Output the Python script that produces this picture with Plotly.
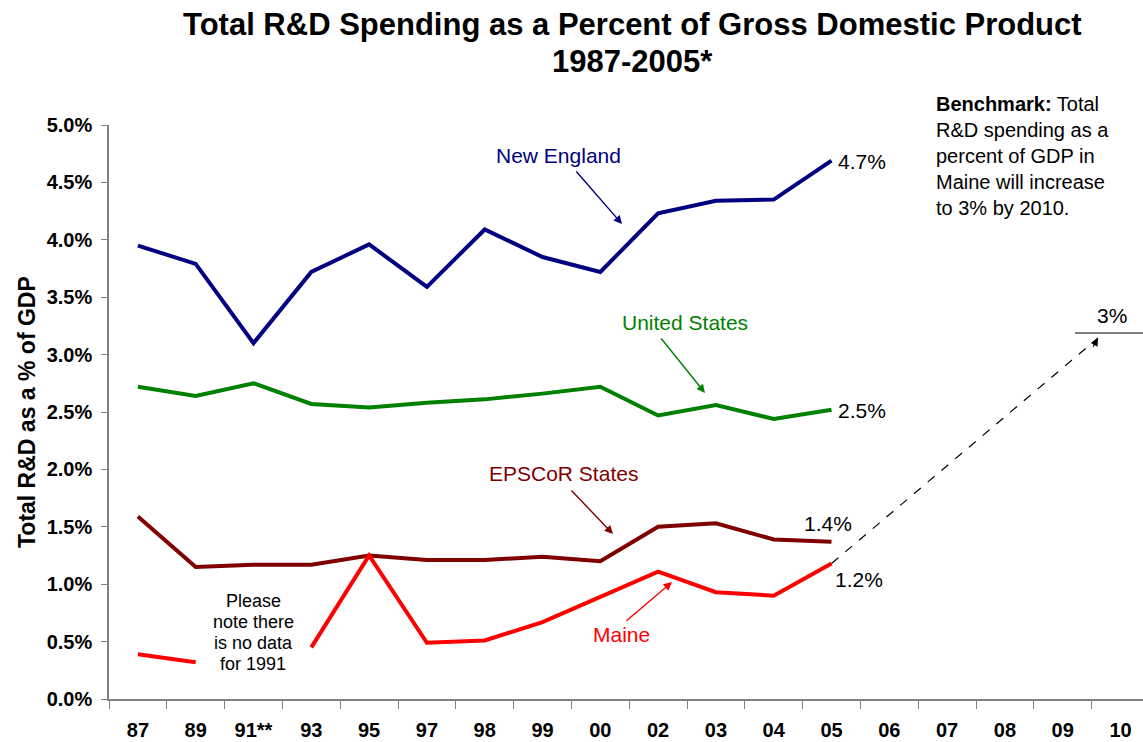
import plotly.graph_objects as go

years = ["87", "89", "91**", "93", "95", "97", "98", "99", "00", "02", "03", "04", "05",
         "06", "07", "08", "09", "10"]
data_years = years[:13]
new_england = [3.95, 3.79, 3.10, 3.72, 3.96, 3.59, 4.09, 3.85, 3.72, 4.23, 4.34, 4.35, 4.69]
united_states = [2.72, 2.64, 2.75, 2.57, 2.54, 2.58, 2.61, 2.66, 2.72, 2.47, 2.56, 2.44, 2.52]
epscor = [1.59, 1.15, 1.17, 1.17, 1.25, 1.21, 1.21, 1.24, 1.20, 1.50, 1.53, 1.39, 1.37]
maine = [0.39, 0.32, None, 0.45, 1.25, 0.49, 0.51, 0.67, 0.89, 1.11, 0.93, 0.90, 1.18]
target_2010 = 3.0

title_lines = ["Total R&D Spending as a Percent of Gross Domestic Product", "1987-2005*"]
benchmark_lines = ["<b>Benchmark:</b> Total", "R&D spending as a", "percent of GDP in",
                   "Maine will increase", "to 3% by 2010."]
note_lines = ["Please", "note there", "is no data", "for 1991"]

FONT = "Liberation Sans, Arial, sans-serif"

# plot area in page pixels
PX_L, PX_R, PX_T, PX_B = 109, 1143, 125, 699
CAT_W = 57.8                      # pixel width of one category
X_END = -0.5 + (PX_R - PX_L) / CAT_W


def px(xp):
    return (xp - PX_L) / (PX_R - PX_L)


def py(yp):
    return (PX_B - yp) / (PX_B - PX_T)


def dx(xp):
    return (xp - PX_L) / CAT_W - 0.5


def dy(yp):
    return (PX_B - yp) / (PX_B - PX_T) * 5.0


fig = go.Figure()
series = [
    ("New England", new_england, "#000080"),
    ("United States", united_states, "#008000"),
    ("EPSCoR States", epscor, "#800000"),
    ("Maine", maine, "#FF0000"),
]
for name, vals, col in series:
    fig.add_trace(go.Scatter(x=data_years, y=vals, mode="lines", name=name,
                             line=dict(color=col, width=4), connectgaps=False,
                             showlegend=False))
fig.add_trace(go.Scatter(x=years, y=[None] * len(years), mode="lines", showlegend=False,
                         hoverinfo="skip"))

ann = []
labels = [
    ("New England", (558, 155), "#000080", (575, 170), (622, 224)),
    ("United States", (685, 322), "#008000", (660, 337), (705, 393)),
    ("EPSCoR States", (563, 473), "#800000", (570, 489), (613, 534)),
    ("Maine", (621, 634), "#FF0000", (625, 622), (672, 582)),
]
for txt, tpos, col, tail, head in labels:
    ann.append(dict(x=dx(tpos[0]), y=dy(tpos[1]), xref="x", yref="y", text=txt,
                    showarrow=False, xanchor="center", yanchor="middle",
                    font=dict(family=FONT, size=21, color=col)))
    ann.append(dict(x=dx(head[0]), y=dy(head[1]), ax=dx(tail[0]), ay=dy(tail[1]),
                    xref="x", yref="y", axref="x", ayref="y", text="", showarrow=True,
                    arrowhead=2, arrowsize=1.2, arrowwidth=1.4, arrowcolor=col))

for txt, (tx, ty) in [("4.7%", (862, 161)), ("2.5%", (862, 410)), ("1.4%", (828, 523)),
                      ("1.2%", (859, 579)), ("3%", (1112, 315))]:
    ann.append(dict(x=dx(tx), y=dy(ty), xref="x", yref="y", text=txt, showarrow=False,
                    xanchor="center", yanchor="middle",
                    font=dict(family=FONT, size=21, color="#000000")))

for i, line in enumerate(note_lines):
    ann.append(dict(x=px(253), y=py(601 + 21 * i), xref="paper", yref="paper", text=line,
                    xanchor="center", yanchor="middle", showarrow=False,
                    font=dict(family=FONT, size=18, color="#000000")))

for i, line in enumerate(benchmark_lines):
    ann.append(dict(x=px(934), y=py(104 + 26 * i), xref="paper", yref="paper", text=line,
                    xanchor="left", yanchor="middle", showarrow=False,
                    font=dict(family=FONT, size=20, color="#000000")))

for i, line in enumerate(title_lines):
    ann.append(dict(x=px(632), y=py(24 + 37 * i), xref="paper", yref="paper",
                    text="<b>" + line + "</b>", showarrow=False, borderpad=0,
                    xanchor="center", yanchor="middle",
                    font=dict(family=FONT, size=31, color="#000000")))

ann.append(dict(x=px(27), y=py(412), xref="paper", yref="paper", textangle=-90,
                xanchor="center", yanchor="middle",
                text="<b>Total R&D as a % of GDP</b>", showarrow=False,
                font=dict(family=FONT, size=23, color="#000000")))

end_x, end_y = dx(1098), dy(338)
ann.append(dict(x=end_x, y=end_y, ax=end_x - 0.1, ay=end_y - 0.09, xref="x", yref="y",
                axref="x", ayref="y", text="", showarrow=True, arrowhead=2, arrowsize=1.3,
                arrowwidth=1.2, arrowcolor="#000000"))

shapes = [
    dict(type="line", xref="x", yref="y", x0=12, y0=maine[-1], x1=end_x, y1=end_y,
         line=dict(color="#000000", width=1.2, dash="dash")),
    dict(type="line", xref="x", yref="y", x0=dx(1075), y0=dy(333), x1=X_END, y1=dy(333),
         line=dict(color="#555555", width=1.5)),
]

fig.update_layout(
    width=1143, height=742,
    margin=dict(l=109, r=0, t=125, b=43, autoexpand=False),
    paper_bgcolor="white", plot_bgcolor="white",
    annotations=ann, shapes=shapes,
    xaxis=dict(type="category", categoryorder="array", categoryarray=years,
               range=[-0.5, X_END], tickson="boundaries", ticks="outside", ticklen=8,
               tickcolor="#808080", showline=True, linecolor="#808080", linewidth=1.5,
               showgrid=False, zeroline=False, ticklabelstandoff=12, automargin=False,
               tickfont=dict(family=FONT, size=20, color="#000000", weight="bold")),
    yaxis=dict(range=[0, 5], dtick=0.5, tickformat=".1f", ticksuffix="%",
               ticks="outside", ticklen=6, tickcolor="#808080", showline=True,
               linecolor="#808080", linewidth=1.5, showgrid=False, zeroline=False,
               ticklabelstandoff=5, automargin=False,
               tickfont=dict(family=FONT, size=20, color="#000000", weight="bold")),
)

fig.write_html("out.html", config={"displayModeBar": False},
               post_script="document.body.style.margin='0';document.body.style.overflow='hidden';")
